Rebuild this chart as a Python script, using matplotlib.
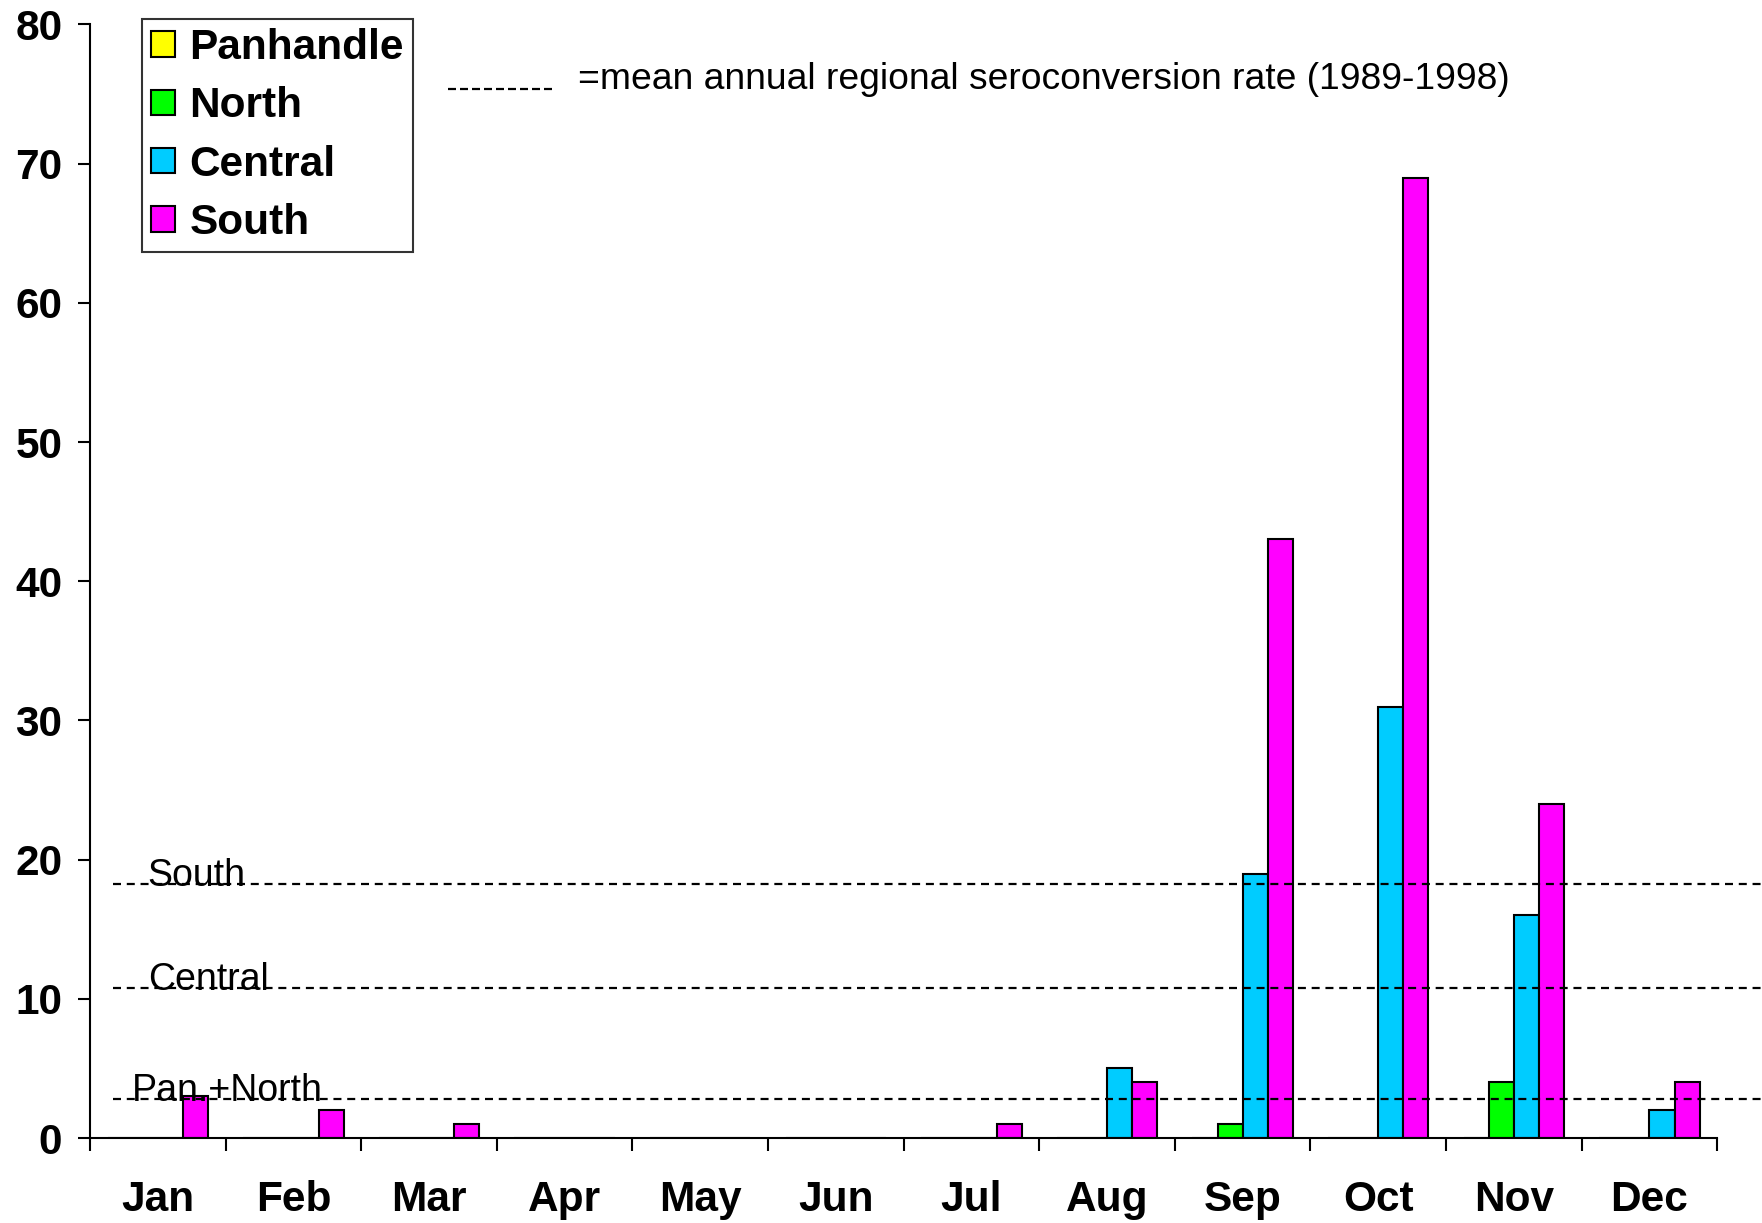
import numpy as np
import matplotlib.pyplot as plt

plt.rcParams['font.family'] = ['Liberation Sans', 'DejaVu Sans']

months = ["Jan", "Feb", "Mar", "Apr", "May", "Jun",
          "Jul", "Aug", "Sep", "Oct", "Nov", "Dec"]
panhandle = [0, 0, 0, 0, 0, 0, 0, 0, 0, 0, 0, 0]
north = [0, 0, 0, 0, 0, 0, 0, 0, 1, 0, 4, 0]
central = [0, 0, 0, 0, 0, 0, 0, 5, 19, 31, 16, 2]
south = [3, 2, 1, 0, 0, 0, 1, 4, 43, 69, 24, 4]

series_names = ["Panhandle", "North", "Central", "South"]
series_colors = ["#FFFF00", "#00FF00", "#00CCFF", "#FF00FF"]

# mean annual regional seroconversion rates (1989-1998)
mean_labels = ["South", "Central", "Pan.+North"]
mean_values = [18.25, 10.8, 2.8]

fig = plt.figure(figsize=(17.62, 12.23), dpi=100)
ax = fig.add_axes([0.0511, 0.0695, 0.9235, 0.9105])

x = np.arange(len(months))
w = 0.185
for i, (vals, name, col) in enumerate(zip([panhandle, north, central, south],
                                          series_names, series_colors)):
    ax.bar(x + (i - 1.5) * w, vals, width=w, color=col, edgecolor="black",
           linewidth=1.5, label=name, zorder=2)

# dashed reference lines, running past the right edge
for lab, val in zip(mean_labels, mean_values):
    ax.plot([0.014, 1.03], [val, val], transform=ax.get_yaxis_transform(),
            color="black", linestyle=(0, (3.6, 2.6)), linewidth=1.6,
            clip_on=False, zorder=3)
lab_x = {"South": 0.0355, "Central": 0.0355, "Pan.+North": 0.026}
for lab, val in zip(mean_labels, mean_values):
    ax.text(lab_x[lab], val - 0.15, lab, transform=ax.get_yaxis_transform(),
            fontsize=27, ha="left", va="baseline", zorder=4)

ax.set_xlim(-0.5, 11.5)
ax.set_ylim(0, 80)
ax.set_yticks(np.arange(0, 81, 10))
ax.set_xticks(x)
ax.set_xticklabels(months)
ax.set_xticks(np.arange(-0.5, 12, 1), minor=True)
ax.tick_params(axis="x", which="major", length=0, pad=30, labelsize=30.5)
ax.tick_params(axis="x", which="minor", length=9, width=1.5, direction="out")
ax.tick_params(axis="y", length=9, width=1.5, pad=11, labelsize=30.5)
for t in ax.get_xticklabels() + ax.get_yticklabels():
    t.set_fontweight("bold")

for s in ["top", "right"]:
    ax.spines[s].set_visible(False)
for s in ["left", "bottom"]:
    ax.spines[s].set_linewidth(1.5)

leg = ax.legend(loc="upper left", bbox_to_anchor=(0.032, 1.005),
                prop={"size": 30.5, "weight": "bold"}, frameon=True,
                fancybox=False, edgecolor="black", handlelength=0.55,
                handleheight=0.55, handletextpad=0.35, labelspacing=0.43,
                borderpad=0.22, borderaxespad=0)
leg.get_frame().set_linewidth(1.5)

# key for the dashed lines
ax.plot([0.220, 0.286], [0.942, 0.942], transform=ax.transAxes,
        color="black", linestyle=(0, (3.6, 1.8)), linewidth=1.6)
ax.text(0.300, 0.951, "=mean annual regional seroconversion rate (1989-1998)",
        transform=ax.transAxes, fontsize=26.8, ha="left", va="center")

fig.savefig("out.png", dpi=100)
